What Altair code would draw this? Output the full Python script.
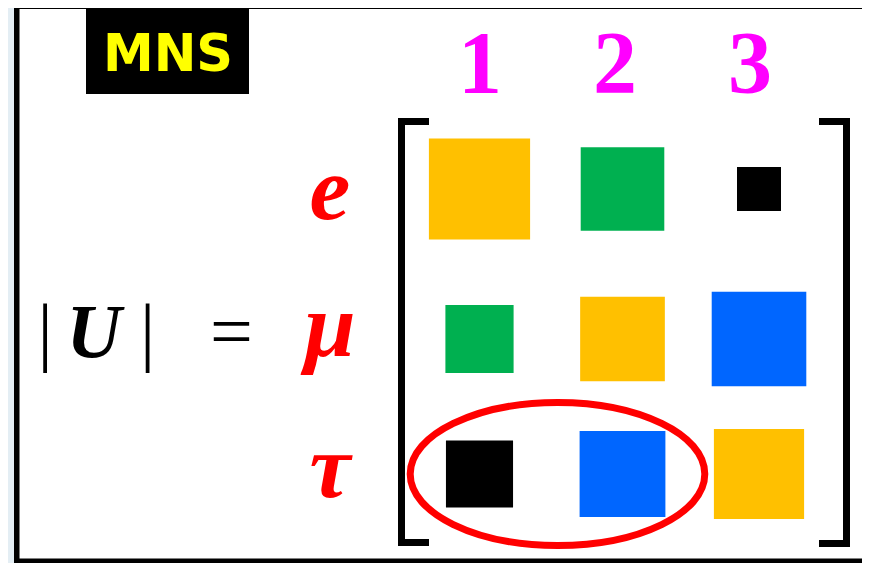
import altair as alt
import pandas as pd

# ---------------- data ----------------
rows = ["e", "μ", "τ"]
cols = ["1", "2", "3"]
# relative magnitudes |U_ai|
magnitude = [
    [0.92, 0.76, 0.40],
    [0.62, 0.77, 0.86],
    [0.61, 0.78, 0.82],
]
# colour group of each element (symmetric pattern)
pair = [
    ["diag", "12", "13"],
    ["12", "diag", "23"],
    ["13", "23", "diag"],
]
pair_names = ["diag", "12", "13", "23"]
pair_colors = ["#FFC000", "#00B050", "#000000", "#0066FF"]
highlight_row = "τ"
highlight_cols = ["1", "2"]
badge = "MNS"
lhs_tokens = ["|", "U", "|", "="]

# ---------------- tables ----------------
cells = pd.DataFrame([
    {"row": r, "col": c, "ri": i + 1, "ci": j + 1,
     "mag": magnitude[i][j], "pair": pair[i][j]}
    for i, r in enumerate(rows) for j, c in enumerate(cols)
])
head_df = pd.DataFrame({"col": cols, "ci": [j + 1 for j in range(len(cols))]})
row_df = pd.DataFrame({"row": rows, "ri": [i + 1 for i in range(len(rows))]})
hl_df = pd.DataFrame([{
    "ri": rows.index(highlight_row) + 1,
    "ci": sum(cols.index(c) + 1 for c in highlight_cols) / len(highlight_cols),
}])

idx = [1, 2, 3]
cell_x = alt.Scale(domain=idx, range=[471.5, 614.5, 751], nice=False, zero=False)
cell_y = alt.Scale(domain=idx, range=[181, 331, 466], nice=False, zero=False)

SERIF = "Liberation Serif"

# frame and badge
frame = alt.Chart(cells).mark_rect(fill="white", stroke="black", strokeWidth=5).encode(
    x=alt.value(9), x2=alt.value(900), y=alt.value(-1.5), y2=alt.value(553)
)
badge_box = alt.Chart(cells).mark_rect(color="black").encode(
    x=alt.value(78), x2=alt.value(241), y=alt.value(0), y2=alt.value(86)
)
badge_text = alt.Chart(pd.DataFrame({"t": [badge]})).mark_text(
    font="DejaVu Sans", fontWeight="bold", fontSize=51, color="#FFFF00",
    align="center", baseline="alphabetic"
).encode(x=alt.value(160), y=alt.value(63), text="t:N")

# |U| =
lhs_x = [37, 86, 139.5, 223.5]
lhs_layers = []
for tok, xv in zip(lhs_tokens, lhs_x):
    bold = tok == "U"
    lhs_layers.append(
        alt.Chart(pd.DataFrame({"t": [tok]})).mark_text(
            font=SERIF, fontSize=76, color="black",
            fontWeight="bold" if bold else "normal",
            fontStyle="italic" if bold else "normal",
            align="center", baseline="alphabetic"
        ).encode(x=alt.value(xv), y=alt.value(349), text="t:N")
    )

# brackets
def rule(x1, x2, y1, y2):
    return alt.Chart(cells).mark_rule(color="black", strokeWidth=6, strokeCap="butt").encode(
        x=alt.value(x1), x2=alt.value(x2), y=alt.value(y1), y2=alt.value(y2)
    )

brackets = [
    rule(393.5, 393.5, 110, 537.5),
    rule(390.5, 421, 113.5, 113.5),
    rule(390.5, 421, 534.5, 534.5),
    rule(838.5, 838.5, 110, 538.5),
    rule(811, 841.5, 113.5, 113.5),
    rule(811, 841.5, 535.5, 535.5),
]

# column headers
headers = alt.Chart(head_df).mark_text(
    font=SERIF, fontSize=88, fontWeight="bold", color="#FF00FF",
    align="center", baseline="alphabetic"
).encode(
    x=alt.X("ci:Q", scale=alt.Scale(domain=idx, range=[472, 607, 742], nice=False, zero=False), axis=None),
    y=alt.value(84),
    text="col:N",
)

# row labels
row_labels = alt.Chart(row_df).mark_text(
    font=SERIF, fontSize=92, fontWeight="bold", fontStyle="italic", color="#FF0000",
    align="center", baseline="alphabetic"
).encode(
    x=alt.value(322),
    y=alt.Y("ri:Q", scale=alt.Scale(domain=idx, range=[211, 348, 489], nice=False, zero=False), axis=None),
    text="row:N",
)

# matrix cells
squares = alt.Chart(cells).mark_square(filled=True, opacity=1, strokeWidth=0).encode(
    x=alt.X("ci:Q", scale=cell_x, axis=None),
    y=alt.Y("ri:Q", scale=cell_y, axis=None),
    size=alt.Size("mag:Q", scale=alt.Scale(type="pow", exponent=2, domain=[0, 1], range=[0, 12100]), legend=None),
    color=alt.Color("pair:N", scale=alt.Scale(domain=pair_names, range=pair_colors), legend=None),
)

# highlight ellipse
k = 0.4854
c = 0.5523
ell = (f"M -1 0 C -1 {-c*k:.4f} {-c:.4f} {-k:.4f} 0 {-k:.4f} "
       f"C {c:.4f} {-k:.4f} 1 {-c*k:.4f} 1 0 "
       f"C 1 {c*k:.4f} {c:.4f} {k:.4f} 0 {k:.4f} "
       f"C {-c:.4f} {k:.4f} -1 {c*k:.4f} -1 0 Z")
ellipse = alt.Chart(hl_df).mark_point(
    shape=ell, size=86789, filled=False, color="#FF0000", strokeWidth=7, opacity=1, xOffset=6.5
).encode(
    x=alt.X("ci:Q", scale=cell_x, axis=None),
    y=alt.Y("ri:Q", scale=cell_y, axis=None),
)

chart = alt.layer(
    frame, badge_box, badge_text, *lhs_layers, *brackets, headers, row_labels, squares, ellipse
).resolve_scale(
    x="independent", y="independent"
).properties(
    width=854, height=555, autosize=alt.AutoSizeParams(type="none"), padding=0,
    background="#e4eef4",
).configure_view(stroke=None)

chart.save("out.html", embed_options={"renderer": "svg", "actions": False})
